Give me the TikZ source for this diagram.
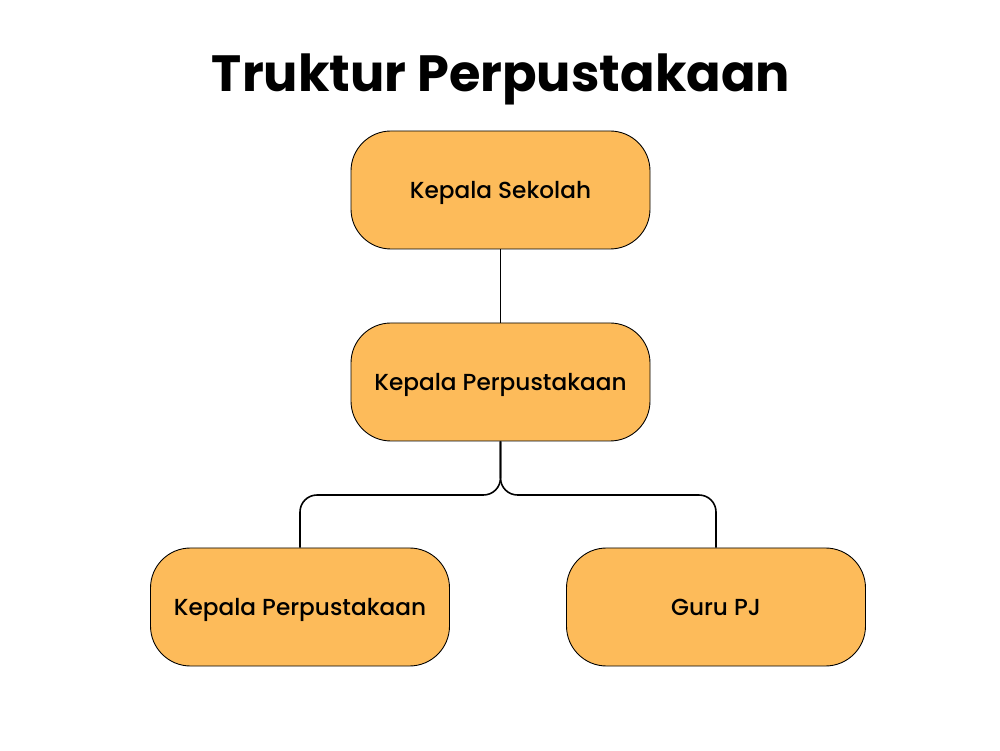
\documentclass[tikz,border=0pt]{standalone}
\usepackage{fontspec}
\setmainfont{Poppins}
\newfontfamily\medfont{Poppins Medium}
\usepackage{tikz}
\definecolor{boxFill}{HTML}{FDBB5A}

\begin{document}
\begin{tikzpicture}
  \tikzset{every org node/.style={draw=black, line width=0.5pt, fill=boxFill, rounded corners=0.8cm,
           minimum width=5.98cm, minimum height=2.36cm, align=center,
           text height=1.9ex, text depth=0.1ex, font=\medfont\fontsize{13.2}{15}\selectfont},
           org line/.style={line width=0.9pt, rounded corners=0.34cm}}
  \useasboundingbox (0,0) rectangle (20,-15.02);
  \node[anchor=base] (title) at (10.02,-1.84) {\fontsize{29}{34}\selectfont\bfseries Truktur Perpustakaan};
  \node[every org node] (kepsek) at (10.01,-3.8) {Kepala Sekolah};
  \node[every org node] (kaperpus) at (10.01,-7.64) {Kepala Perpustakaan};
  \node[every org node] (kaperpus2) at (6.0,-12.14) {Kepala Perpustakaan};
  \node[every org node] (gurupj) at (14.32,-12.14) {Guru PJ};
  \coordinate (fork) at (10,-9.9);
        \draw[org line] (kepsek) -- (kaperpus);
        \draw[org line] (kaperpus.south) -- (kaperpus.south |- fork) -| (kaperpus2.north);
        \draw[org line] (kaperpus.south) -- (kaperpus.south |- fork) -| (gurupj.north);
\end{tikzpicture}
\end{document}
